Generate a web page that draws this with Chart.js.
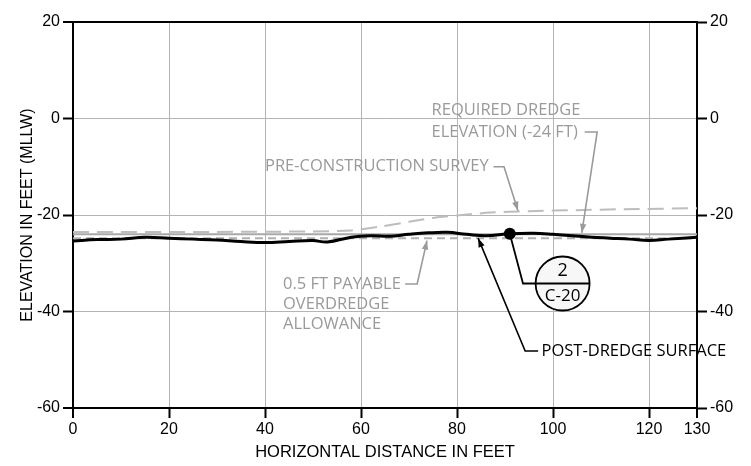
<!DOCTYPE html>
<html>
<head>
<meta charset="utf-8">
<script src="https://cdn.jsdelivr.net/npm/chart.js@4.4.1/dist/chart.umd.min.js"></script>
<style>
  html, body { margin: 0; padding: 0; background: #fff; }
</style>
</head>
<body>
<canvas id="section" width="751" height="466"></canvas>
<script>
// tick labels
const xTicks = [0, 20, 40, 60, 80, 100, 120, 130];
const yTicks = [20, 0, -20, -40, -60];

// post-dredge surface
const postX = [0, 5, 10, 15, 20, 25, 30, 35, 40, 45, 50, 53, 58, 62, 66, 70, 74, 78, 82, 86, 91, 96, 100, 104, 108, 112, 116, 120, 124, 130];
const postY = [-25.4, -25.1, -25.0, -24.6, -24.8, -25.0, -25.2, -25.5, -25.7, -25.5, -25.3, -25.6, -24.6, -24.3, -24.4, -24.0, -23.7, -23.6, -24.0, -24.3, -23.9, -23.8, -24.0, -24.3, -24.6, -24.8, -25.0, -25.3, -25.0, -24.6];

// pre-construction survey
const preX = [0, 30, 50, 58, 64, 70, 75, 80, 87, 95, 105, 115, 130];
const preY = [-23.5, -23.5, -23.4, -23.2, -22.4, -21.4, -20.6, -20.1, -19.5, -19.2, -19.0, -18.8, -18.6];

// design levels
const requiredElev = -24;
const overdredgeElev = -24.8;

// detail callout point
const detailX = [91];
const detailY = [-23.9];

const GREY_TEXT = "#9a9a9a";
const GRID = "#b4b4b4";
const TICK_FONT = { family: "Liberation Sans", size: 16 };

const pts = (xs, ys) => xs.map((x, i) => ({ x: x, y: ys[i] }));
const flat = (v) => [{ x: xTicks[0], y: v }, { x: xTicks[xTicks.length - 1], y: v }];

// leaders and labels, in data units
const notes = [
  { lines: ["REQUIRED DREDGE", "ELEVATION (-24 FT)"], at: [74.7, 1.8], gap: 22, color: GREY_TEXT,
    leader: [[106.6, -2.8], [109.2, -2.8], [106.0, -23.7]] },
  { lines: ["PRE-CONSTRUCTION SURVEY"], at: [40, -10.0], gap: 20, color: GREY_TEXT,
    leader: [[87.6, -10.0], [89.8, -10.0], [92.7, -19.1]] },
  { lines: ["0.5 FT PAYABLE", "OVERDREDGE", "ALLOWANCE"], at: [43.75, -34.3], gap: 20, color: GREY_TEXT,
    leader: [[69.2, -34.3], [71.7, -34.3], [73.75, -25.3]] },
  { lines: ["POST-DREDGE SURFACE"], at: [97.6, -48.2], gap: 20, color: "#000",
    leader: [[96.9, -48.2], [94.2, -48.2], [84.4, -24.8]] }
];

function arrowHead(ctx, x0, y0, x1, y1) {
  const a = Math.atan2(y1 - y0, x1 - x0);
  const len = 9, w = 3.2;
  ctx.beginPath();
  ctx.moveTo(x1, y1);
  ctx.lineTo(x1 - len * Math.cos(a) + w * Math.sin(a), y1 - len * Math.sin(a) - w * Math.cos(a));
  ctx.lineTo(x1 - len * Math.cos(a) - w * Math.sin(a), y1 - len * Math.sin(a) + w * Math.cos(a));
  ctx.closePath();
  ctx.fill();
}

const notesPlugin = {
  id: "notes",
  afterDatasetsDraw(chart) {
    const ctx = chart.ctx;
    const xs = chart.scales.x, ys = chart.scales.y;
    const px = (p) => [xs.getPixelForValue(p[0]), ys.getPixelForValue(p[1])];
    ctx.save();
    ctx.font = "16.5px 'Open Sans'";
    ctx.textBaseline = "middle";
    ctx.textAlign = "left";
    notes.forEach((n) => {
      const [tx, ty] = px(n.at);
      ctx.fillStyle = n.color;
      n.lines.forEach((t, i) => ctx.fillText(t, tx, ty + i * n.gap));
      const p = n.leader.map(px);
      ctx.strokeStyle = n.color;
      ctx.lineWidth = 1.6;
      ctx.beginPath();
      ctx.moveTo(p[0][0], p[0][1]);
      for (let i = 1; i < p.length; i++) ctx.lineTo(p[i][0], p[i][1]);
      ctx.stroke();
      const a = p[p.length - 2], b = p[p.length - 1];
      arrowHead(ctx, a[0], a[1], b[0], b[1]);
    });

    // detail callout 2 / C-20
    const [cx, cy] = px([102, -34.2]);
    const r = 27;
    const [dx, dy] = px([detailX[0], detailY[0]]);
    const [kx] = px([93.75, 0]);
    ctx.strokeStyle = "#000";
    ctx.lineWidth = 1.8;
    ctx.beginPath();
    ctx.arc(cx, cy, r, 0, Math.PI * 2);
    ctx.fillStyle = "#f7f7f7";
    ctx.fill();
    ctx.stroke();
    ctx.beginPath();
    ctx.moveTo(dx, dy);
    ctx.lineTo(kx, cy);
    ctx.lineTo(cx + r, cy);
    ctx.stroke();
    ctx.fillStyle = "#000";
    ctx.textAlign = "center";
    ctx.font = "18px 'Open Sans'";
    ctx.fillText("2", cx, cy - 13);
    ctx.font = "17px 'Open Sans'";
    ctx.fillText("C-20", cx, cy + 13);
    ctx.restore();
  }
};

const edge = (v, lo, hi) => v === lo || v === hi;

new Chart(document.getElementById("section"), {
  type: "line",
  data: {
    datasets: [
      { data: pts(detailX, detailY), showLine: false, pointRadius: 6, pointBackgroundColor: "#000", pointBorderWidth: 0 },
      { data: pts(postX, postY), borderColor: "#000", borderWidth: 3, tension: 0.4, pointRadius: 0 },
      { data: flat(requiredElev), borderColor: "#a8a8a8", borderWidth: 2, pointRadius: 0 },
      { data: flat(overdredgeElev), borderColor: "#b0b0b0", borderWidth: 2, borderDash: [8, 5], pointRadius: 0 },
      { data: pts(preX, preY), borderColor: "#bdbdbd", borderWidth: 2, borderDash: [16, 8], tension: 0.3, pointRadius: 0 }
    ]
  },
  options: {
    responsive: false,
    animation: false,
    events: [],
    layout: { padding: { top: 22, left: 0, right: 0, bottom: 0 } },
    plugins: { legend: { display: false }, tooltip: { enabled: false } },
    scales: {
      x: {
        type: "linear", min: 0, max: 130,
        afterBuildTicks: (s) => { s.ticks = xTicks.map((v) => ({ value: v })); },
        afterFit: (s) => { s.height = 58; },
        ticks: { color: "#000", font: TICK_FONT, padding: 2, maxRotation: 0, autoSkip: false },
        grid: {
          color: (c) => edge(c.tick.value, 0, 130) ? "#000" : GRID,
          lineWidth: (c) => edge(c.tick.value, 0, 130) ? 2 : 1,
          tickColor: "#000", tickWidth: 2, tickLength: 10
        },
        border: { color: "#000", width: 2 },
        title: { display: true, text: "HORIZONTAL DISTANCE IN FEET", color: "#000", font: { family: "Liberation Sans", size: 16.5 }, padding: { top: 0, bottom: 4 } }
      },
      y: {
        position: "left", min: -60, max: 20,
        afterBuildTicks: (s) => { s.ticks = yTicks.map((v) => ({ value: v })); },
        afterFit: (s) => { s.width = 73; },
        ticks: { color: "#000", font: TICK_FONT, padding: 3 },
        grid: {
          color: (c) => edge(c.tick.value, -60, 20) ? "#000" : GRID,
          lineWidth: (c) => edge(c.tick.value, -60, 20) ? 2 : 1,
          tickColor: "#000", tickWidth: 2, tickLength: 10
        },
        border: { color: "#000", width: 2 },
        title: { display: true, text: "ELEVATION IN FEET (MLLW)", color: "#000", font: TICK_FONT, padding: { top: 18, bottom: 0 } }
      },
      y2: {
        position: "right", min: -60, max: 20,
        afterBuildTicks: (s) => { s.ticks = yTicks.map((v) => ({ value: v })); },
        afterFit: (s) => { s.width = 54; },
        ticks: { color: "#000", font: TICK_FONT, padding: 3 },
        grid: { drawOnChartArea: false, tickColor: "#000", tickWidth: 2, tickLength: 10 },
        border: { color: "#000", width: 2 }
      }
    }
  },
  plugins: [notesPlugin]
});
</script>
</body>
</html>
